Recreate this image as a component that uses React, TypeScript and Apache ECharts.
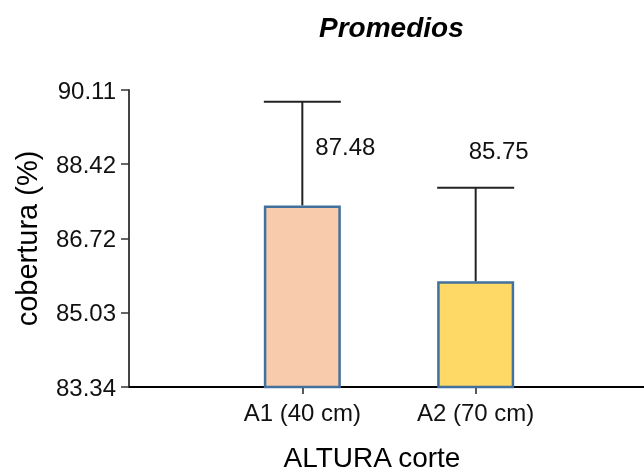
import React, { useEffect, useRef } from "react";
import * as echarts from "echarts";

// Categories on the x axis; the blank entries pad both ends so the two bars sit at 1/3 and 2/3.
const CATEGORIES = ["", "A1 (40 cm)", "A2 (70 cm)", ""];
// Mean coverage per cutting height (%)
const MEANS: (number | null)[] = [null, 87.48, 85.75, null];
// Upper error (added above the mean)
const UPPER_ERR: (number | null)[] = [null, 2.36, 2.13, null];
// Y-axis tick values
const Y_TICKS = [83.34, 85.03, 86.72, 88.42, 90.11];

const BAR_FILLS = ["#f8cbad", "#ffd966"];
const BAR_BORDER = "#41719c";
const BAR_WIDTH = 77;
// Pixel offsets of the value labels: [dx from bar centre, dy from plot top]
const LABEL_OFFSETS = [
  [43, 56],
  [23, 60],
];

const FONT = "'Liberation Sans', Arial, sans-serif";

export default function App() {
  const ref = useRef<HTMLDivElement>(null);

  useEffect(() => {
    if (!ref.current) return;
    const chart = echarts.init(ref.current, undefined, { renderer: "svg" });

    const barData = MEANS.map((v, i) =>
      v == null
        ? null
        : {
            value: v,
            itemStyle: { color: BAR_FILLS[(i - 1) % BAR_FILLS.length] },
          }
    );

    const errData: number[][] = [];
    MEANS.forEach((v, i) => {
      const e = UPPER_ERR[i];
      if (v != null && e != null) errData.push([i, v, v + e]);
    });

    chart.setOption({
      animation: false,
      textStyle: { fontFamily: FONT },
      title: {
        text: "Promedios",
        left: 314,
        top: 8,
        textStyle: {
          fontFamily: FONT,
          fontSize: 28,
          fontWeight: "bold",
          fontStyle: "italic",
          color: "#000",
        },
      },
      grid: {
        left: 129,
        top: 90,
        width: 520,
        bottom: 84,
        containLabel: false,
        outerBoundsMode: "none",
      },
      xAxis: {
        type: "category",
        data: CATEGORIES,
        boundaryGap: false,
        name: "ALTURA corte",
        nameLocation: "middle",
        nameGap: 56,
        nameTextStyle: {
          fontFamily: FONT,
          fontSize: 28,
          color: "#000",
          padding: [0, 34, 0, 0],
        },
        axisLine: { lineStyle: { color: "#000", width: 2 } },
        axisTick: {
          show: true,
          length: 7,
          interval: (i: number) => CATEGORIES[i] !== "",
          lineStyle: { color: "#222", width: 1.5 },
        },
        axisLabel: {
          interval: 0,
          margin: 13,
          fontFamily: FONT,
          fontSize: 24,
          color: "#111",
        },
        splitLine: { show: false },
      },
      yAxis: {
        type: "value",
        min: Y_TICKS[0],
        max: Y_TICKS[Y_TICKS.length - 1],
        name: "cobertura (%)",
        nameLocation: "middle",
        nameGap: 88,
        nameTextStyle: { fontFamily: FONT, fontSize: 29, color: "#000" },
        axisLine: { show: true, lineStyle: { color: "#444", width: 2 } },
        axisTick: {
          show: true,
          length: 8,
          customValues: Y_TICKS,
          lineStyle: { color: "#333", width: 1.5 },
        },
        axisLabel: {
          customValues: Y_TICKS,
          margin: 13,
          fontFamily: FONT,
          fontSize: 24,
          color: "#111",
          formatter: (v: number) => v.toFixed(2),
        },
        splitLine: { show: false },
      },
      series: [
        {
          type: "bar",
          data: barData,
          barWidth: BAR_WIDTH,
          itemStyle: { borderColor: BAR_BORDER, borderWidth: 2.5 },
        },
        {
          type: "custom",
          data: errData,
          z: 5,
          renderItem: (params: any, api: any) => {
            const x = api.value(0);
            const mean = api.value(1);
            const top = api.value(2);
            const pBase = api.coord([x, mean]);
            const pTop = api.coord([x, top]);
            const half = BAR_WIDTH / 2;
            const k = params.dataIndex;
            const off = LABEL_OFFSETS[k] || [30, 60];
            const cs = params.coordSys;
            return {
              type: "group",
              children: [
                {
                  type: "line",
                  shape: { x1: pTop[0], y1: pBase[1], x2: pTop[0], y2: pTop[1] },
                  style: { stroke: "#222", lineWidth: 2 },
                },
                {
                  type: "line",
                  shape: {
                    x1: pTop[0] - half,
                    y1: pTop[1],
                    x2: pTop[0] + half,
                    y2: pTop[1],
                  },
                  style: { stroke: "#222", lineWidth: 2 },
                },
                {
                  type: "text",
                  x: pBase[0] + off[0],
                  y: cs.y + off[1],
                  style: {
                    text: mean.toFixed(2),
                    textAlign: "center",
                    textVerticalAlign: "middle",
                    fontFamily: FONT,
                    fontSize: 24,
                    fill: "#111",
                  },
                },
              ],
            };
          },
        },
      ],
    });

    return () => chart.dispose();
  }, []);

  return (
    <div
      ref={ref}
      style={{ position: "fixed", left: 0, top: 0, width: 644, height: 471 }}
    />
  );
}
